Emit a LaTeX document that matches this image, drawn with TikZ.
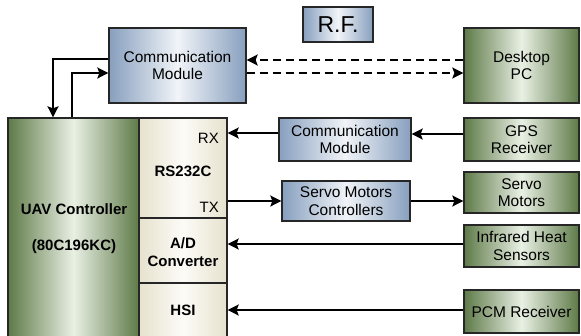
\documentclass[tikz,border=0pt]{standalone}
\usepackage{fontspec}
\setmainfont{Liberation Sans}
\usetikzlibrary{arrows.meta}
\definecolor{bedge}{HTML}{879FBE}
\definecolor{bmid}{HTML}{F1F4F8}
\definecolor{gedge}{HTML}{5E7A48}
\definecolor{gmid}{HTML}{E9F0E4}
\definecolor{cedge}{HTML}{E6E2CE}
\definecolor{cmid}{HTML}{FCFBF7}
\tikzset{
  basebox/.style={draw=black!85, line width=1.3pt, inner sep=0pt, align=center,
    font=\fontsize{15.5}{17.5}\selectfont},
  bluebox/.style={basebox, left color=bedge, right color=bedge, middle color=bmid},
  greenbox/.style={basebox, left color=gedge, right color=gedge, middle color=gmid},
  creambox/.style={basebox, left color=cedge, right color=cedge, middle color=cmid},
  lbl/.style={inner sep=0pt, font=\fontsize{15}{17}\selectfont},
  blbl/.style={inner sep=0pt, font=\bfseries\fontsize{15}{18}\selectfont, align=center},
  arr/.style={line width=1.8pt, -{Stealth[length=11pt,width=11pt,inset=2pt]}},
  dsh/.style={dash pattern=on 8pt off 5pt}
}
\begin{document}
\begin{tikzpicture}[x=1pt,y=-1pt]
\useasboundingbox (0,0) rectangle (581,335);
% boxes
\node[bluebox, minimum width=137pt, minimum height=75pt] (comm1) at (177.5,65.5) {Communication\\Module};
\node[bluebox, minimum width=70pt, minimum height=35pt, font=\fontsize{23}{25}\selectfont] (rf) at (338,24.5) {R.F.};
\node[greenbox, minimum width=115pt, minimum height=75pt] (desk) at (521.5,65.5) {Desktop\\PC};
\node[greenbox, minimum width=131pt, minimum height=227pt] (uav) at (73.5,231.5) {};
\node[creambox, minimum width=88pt, minimum height=100pt] (rs) at (183,168) {};
\node[creambox, minimum width=88pt, minimum height=65pt] (ad) at (183,250.5) {};
\node[creambox, minimum width=88pt, minimum height=62pt] (hsi) at (183,314) {};
\node[bluebox, minimum width=132pt, minimum height=43pt] (comm2) at (345,139.5) {Communication\\Module};
\node[bluebox, minimum width=128pt, minimum height=40pt] (servoctl) at (346,201) {Servo Motors\\Controllers};
\node[greenbox, minimum width=115pt, minimum height=43pt] (gps) at (521.5,139.5) {GPS\\Receiver};
\node[greenbox, minimum width=115pt, minimum height=41pt] (servo) at (521.5,192.5) {Servo\\Motors};
\node[greenbox, minimum width=115pt, minimum height=42pt] (ir) at (521.5,246) {Infrared Heat\\Sensors};
\node[greenbox, minimum width=115pt, minimum height=43pt] (pcm) at (521.5,311.5) {PCM Receiver};
% labels
\node[blbl] (uavl1) at (74,209) {UAV Controller};
\node[blbl] (uavl2) at (74,247) {(80C196KC)};
\node[lbl, anchor=east] (rx) at (219,138) {RX};
\node[blbl] (rsl) at (183,171) {RS232C};
\node[lbl, anchor=east] (tx) at (219,207) {TX};
\node[blbl] (adl) at (183,252) {A/D\\Converter};
\node[blbl] (hsil) at (183,310) {HSI};
% connectors
\draw[arr] (comm1.west |- 0,59) -| (uav.north -| 53,0);
\draw[arr] (uav.north -| 72,0) |- (comm1.west |- 0,73);
\draw[arr,dsh] (desk.west |- 0,60) -- (comm1.east |- 0,60);
\draw[arr,dsh] (comm1.east |- 0,73) -- (desk.west |- 0,73);
\draw[arr] (gps.west |- 0,134) -- (comm2.east |- 0,134);
\draw[arr] (comm2.west |- 0,133) -- (rs.east |- 0,133);
\draw[arr] (rs.east |- 0,201) -- (servoctl.west |- 0,201);
\draw[arr] (servoctl.east |- 0,201) -- (servo.west |- 0,201);
\draw[arr] (ir.west |- 0,244) -- (ad.east |- 0,244);
\draw[arr] (pcm.west |- 0,310) -- (hsi.east |- 0,310);
\end{tikzpicture}
\end{document}
